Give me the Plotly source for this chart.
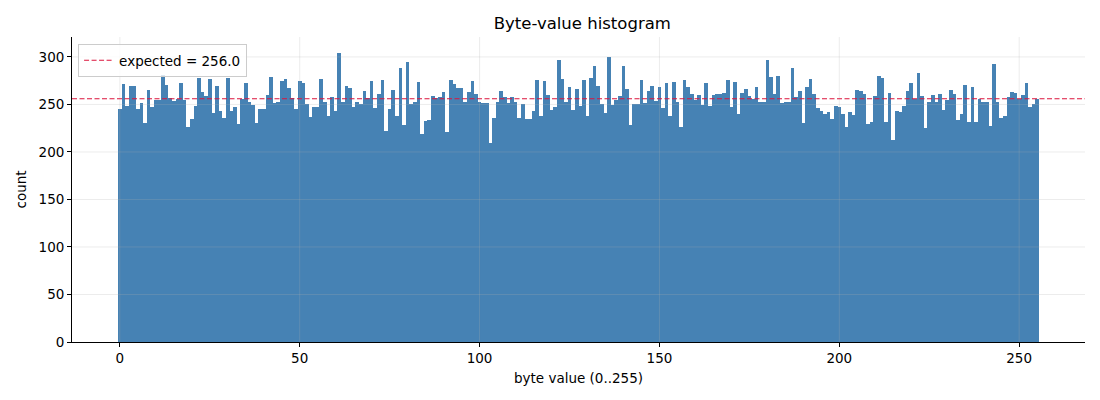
import plotly.graph_objects as go

# byte values 0..255 and how often each one showed up
byte_values = list(range(256))
counts = [
    245, 272, 248, 269, 269, 245, 252, 231, 265, 247, 255, 255, 281, 271, 257, 254,
    256, 273, 255, 226, 235, 248, 278, 263, 259, 277, 241, 269, 243, 236, 278, 243,
    247, 229, 256, 273, 253, 249, 230, 245, 245, 260, 279, 252, 253, 275, 277, 267,
    257, 245, 275, 273, 250, 237, 247, 247, 277, 253, 238, 258, 243, 304, 253, 269,
    267, 247, 253, 251, 264, 257, 275, 246, 261, 276, 222, 245, 265, 238, 288, 228,
    295, 251, 253, 274, 219, 233, 234, 259, 257, 258, 263, 221, 276, 272, 267, 267,
    253, 263, 275, 261, 253, 252, 252, 209, 236, 253, 264, 258, 252, 258, 253, 236,
    251, 235, 235, 243, 276, 238, 275, 260, 244, 247, 297, 277, 253, 268, 244, 266,
    248, 276, 238, 278, 290, 269, 251, 241, 300, 249, 255, 259, 291, 266, 228, 250,
    250, 276, 252, 264, 269, 254, 268, 246, 273, 238, 274, 253, 226, 276, 268, 261,
    255, 260, 249, 273, 248, 260, 261, 261, 262, 276, 247, 274, 240, 262, 266, 259,
    256, 268, 253, 253, 297, 279, 261, 280, 252, 253, 253, 288, 258, 264, 231, 268,
    277, 261, 246, 243, 240, 242, 235, 248, 247, 240, 226, 242, 239, 265, 264, 261,
    229, 232, 259, 280, 278, 232, 262, 213, 243, 242, 248, 264, 273, 256, 283, 259,
    225, 253, 260, 253, 261, 244, 255, 265, 261, 234, 240, 271, 232, 268, 232, 256,
    253, 253, 227, 293, 253, 236, 238, 258, 263, 262, 256, 260, 273, 247, 251, 256,
]
expected = 256.0

x_ticks = [0, 50, 100, 150, 200, 250]
y_ticks = [0, 50, 100, 150, 200, 250, 300]

font = 'DejaVu Sans'
grid_col = 'rgba(176,176,176,0.3)'

fig = go.Figure()
fig.add_trace(go.Bar(
    x=byte_values, y=counts, width=1,
    marker=dict(color='#4682b4', line=dict(width=0)),
    showlegend=False, hoverinfo='x+y',
))

# grid drawn on top of the bars, like matplotlib does here
for t in x_ticks:
    fig.add_vline(x=t, line=dict(color=grid_col, width=0.8), layer='above')
for t in y_ticks[1:]:
    fig.add_hline(y=t, line=dict(color=grid_col, width=0.8), layer='above')

# expected count line (also shows in legend)
fig.add_hline(
    y=expected, line=dict(color='#dc143c', width=1.1, dash='5px,2.5px'),
    layer='above', showlegend=True, name=f'expected = {expected}',
)

axis_common = dict(
    showline=True, linecolor='black', linewidth=0.9,
    ticks='outside', ticklen=4, tickwidth=0.9, tickcolor='black',
    showgrid=False, zeroline=False, mirror=False,
    tickfont=dict(family=font, size=13.5, color='black'),
)

# page body adds an 8px offset, so the figure is a bit smaller than the window
fig.update_layout(
    width=1092, height=392,
    margin=dict(l=64, r=15, t=29, b=58),
    paper_bgcolor='white', plot_bgcolor='white',
    bargap=0,
    font=dict(family=font, color='black'),
    title=dict(text='Byte-value histogram', x=0.5259, xanchor='center',
               y=0.962, yanchor='middle', font=dict(family=font, size=16.5, color='black')),
    xaxis=dict(range=[-13.3, 268.3], tickvals=x_ticks,
               title=dict(text='byte value (0..255)', font=dict(family=font, size=13.5), standoff=8),
               **axis_common),
    yaxis=dict(range=[0, 321], tickvals=y_ticks,
               title=dict(text='count', font=dict(family=font, size=13.5), standoff=8),
               **axis_common),
    legend=dict(x=0.006, y=0.977, xanchor='left', yanchor='top',
                bgcolor='rgba(255,255,255,0.8)', bordercolor='#cccccc', borderwidth=1,
                font=dict(family=font, size=13.5, color='black'),
                itemwidth=30),
)

fig.write_html("out.html")
